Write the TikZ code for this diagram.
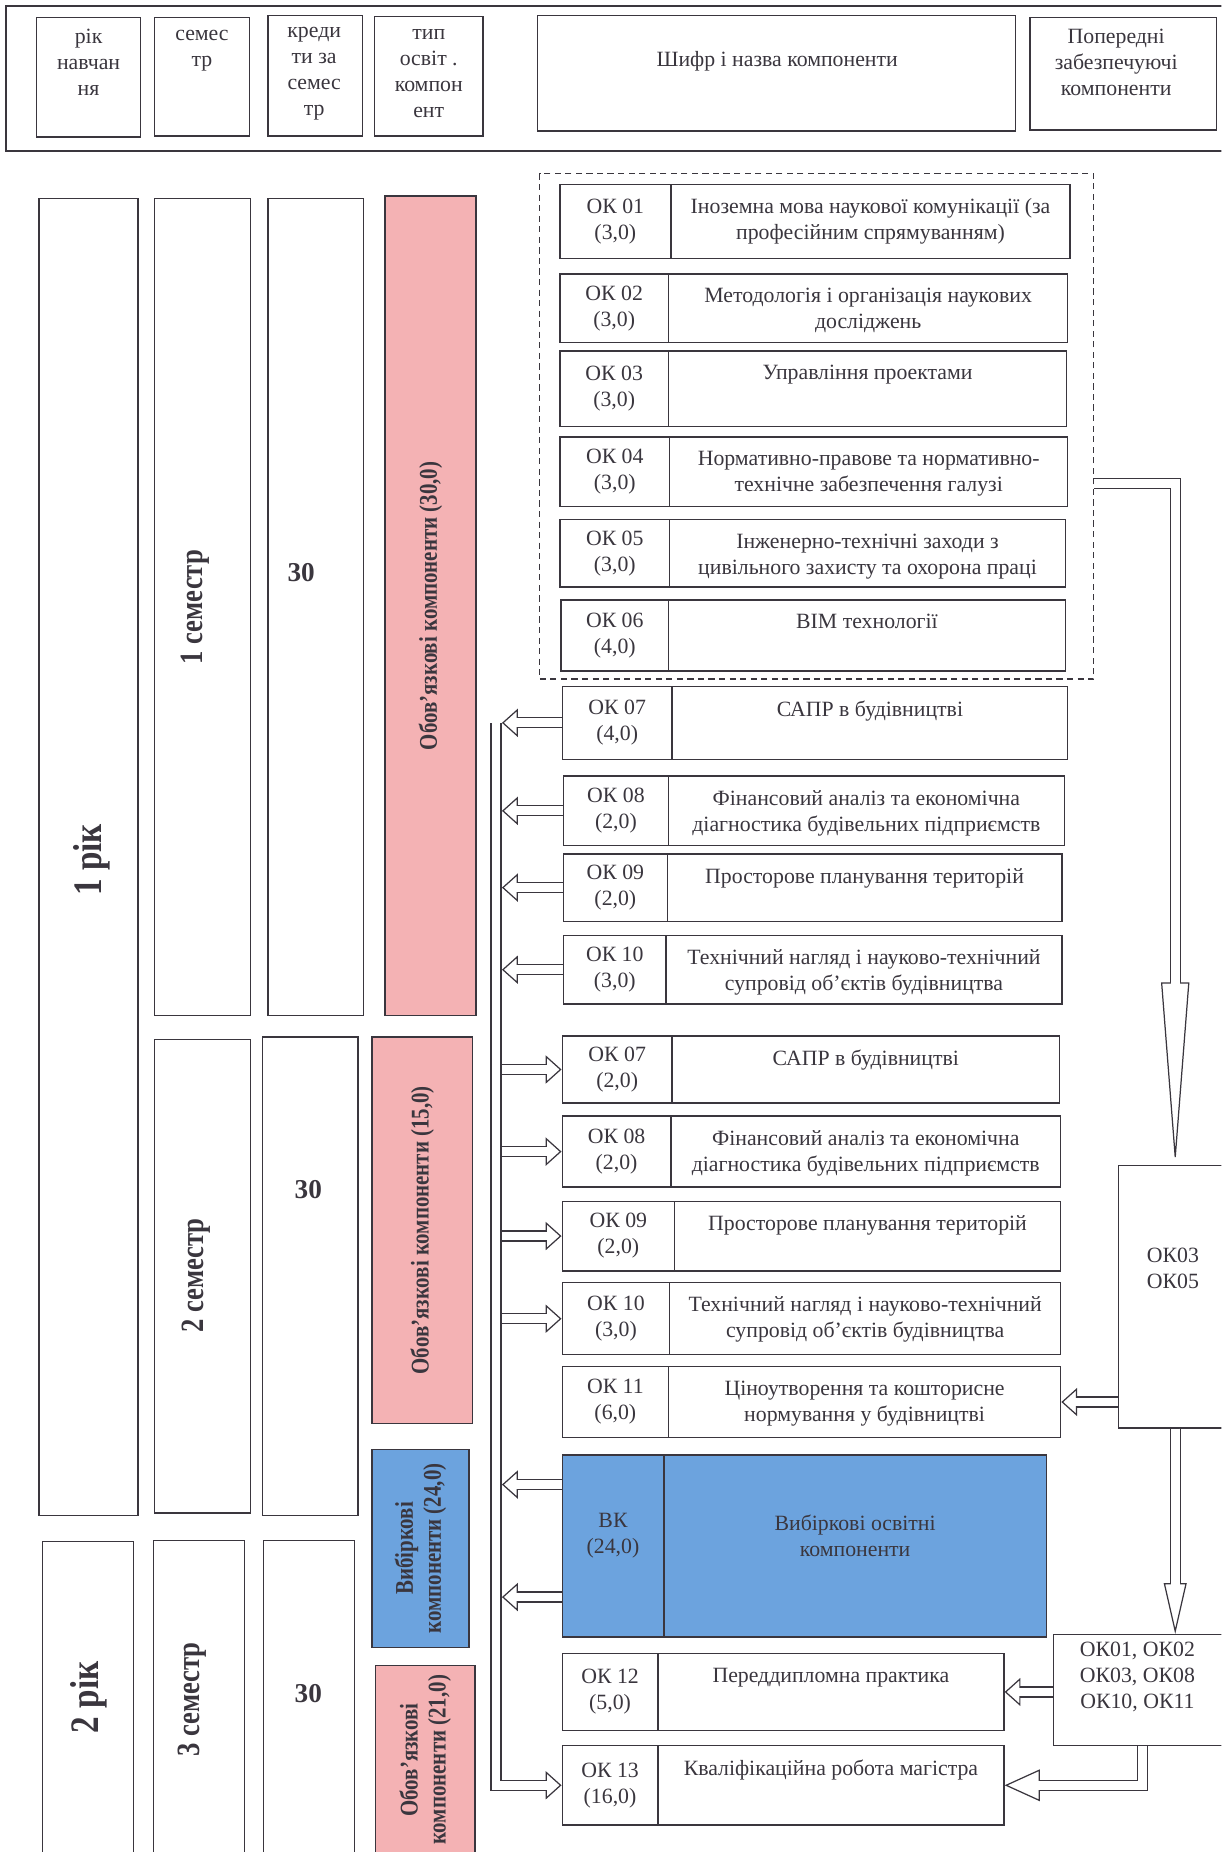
\documentclass[tikz,border=0pt]{standalone}
\usepackage{fontspec}
\setmainfont{Liberation Serif}
\newfontfamily\narrowfont[FakeStretch=0.82]{Liberation Serif}
\usetikzlibrary{arrows.meta, positioning, fit, calc}
\definecolor{ink}{RGB}{58,54,62}
\definecolor{pinkfill}{RGB}{244,178,180}
\definecolor{bluefill}{RGB}{108,163,222}

\begin{document}
\begin{tikzpicture}[
  x=0.02362cm, y=-0.02362cm,
  every node/.style={text=ink},
  cell/.style={draw=ink, line width=0.8pt, inner sep=0pt},
  txt/.style={inner sep=0pt, align=center, font=\fontsize{12.4}{14.8}\selectfont},
  col/.style={draw=ink, line width=0.8pt, inner sep=0pt},
  mand/.style={col, fill=pinkfill},
  elect/.style={col, fill=bluefill},
  vert/.style={rotate=90, inner sep=0pt, align=center, font=\narrowfont\bfseries\fontsize{14.5}{16}\selectfont},
  year/.style={vert, font=\narrowfont\bfseries\fontsize{23}{26}\selectfont},
  sem/.style={vert, font=\narrowfont\bfseries\fontsize{18.5}{22}\selectfont},
  cred/.style={inner sep=0pt, font=\bfseries\fontsize{15.5}{18}\selectfont},
  grp/.style={draw=ink, line width=0.8pt, dash pattern=on 3.5pt off 2.5pt, inner sep=0pt},
  blkarrow/.style n args={3}{draw=ink, line width=6.4pt,
    -{Triangle[fill=white, line width=0.7pt, length=#1, width=#2]},
    postaction={draw=white, line width=5pt, arrows=-, shorten >=#3}},
  blk/.style={blkarrow={9pt}{16pt}{8pt}}
]
\useasboundingbox (0,0) rectangle (1034,1568);
\clip (0,0) rectangle (1034,1568);

% header
\node[cell, fit={(5,5) (1040,128)}] (head) {};
\node[cell, fit={(31,15) (119,116)}] (h1) {};
\node[txt] (h1t) at (75,53) {рік\\навчан\\ня};
\node[cell, fit={(131,15) (211,115)}] (h2) {};
\node[txt] (h2t) at (171,43) {семес\\тр};
\node[cell, fit={(227,13) (307,115)}] (h3) {};
\node[txt] (h3t) at (266,62) {креди\\ти за\\семес\\тр};
\node[cell, fit={(317,14) (409,115)}] (h4) {};
\node[txt] (h4t) at (363,62) {тип\\освіт .\\компон\\ент};
\node[cell, fit={(455,13) (860,111)}] (h5) {};
\node[txt] (h5t) at (658,52) {Шифр і назва компоненти};
\node[cell, fit={(872,15) (1030,110)}] (h6) {};
\node[txt] (h6t) at (945,53) {Попередні\\забезпечуючі\\компоненти};

% years, semesters, credits, component types
\node[col, fit={(33,168) (117,1283)}] (y1) {};
\node[year] (y1t) at (78,728) {1 рік};
\node[col, fit={(36,1305) (113,1600)}] (y2) {};
\node[year] (y2t) at (75,1437) {2 рік};
\node[col, fit={(131,168) (212,860)}] (s1) {};
\node[sem] (s1t) at (165,514) {1 семестр};
\node[col, fit={(131,880) (212,1281)}] (s2) {};
\node[sem] (s2t) at (166,1080) {2 семестр};
\node[col, fit={(130,1304) (207,1600)}] (s3) {};
\node[sem] (s3t) at (163,1439) {3 семестр};
\node[col, fit={(227,168) (308,860)}] (c1) {};
\node[cred] (c1t) at (255,485) {30};
\node[col, fit={(222,878) (303,1283)}] (c2) {};
\node[cred] (c2t) at (261,1007) {30};
\node[col, fit={(223,1304) (300,1600)}] (c3) {};
\node[cred] (c3t) at (261,1434) {30};
\node[mand, fit={(326,166) (403,860)}] (m1) {};
\node[vert] (m1t) at (m1.center) {Обов’язкові компоненти (30,0)};
\node[mand, fit={(315,878) (400,1205)}] (m2) {};
\node[vert] (m2t) at (m2.center) {Обов’язкові компоненти (15,0)};
\node[elect, fit={(315,1227) (397,1395)}] (v1) {};
\node[vert] (v1t) at (v1.center) {Вибіркові\\компоненти (24,0)};
\node[mand, fit={(318,1410) (402,1600)}] (m3) {};
\node[vert] (m3t) at (360,1490) {Обов’язкові\\компоненти (21,0)};

% first semester
\node[grp, fit={(457,147) (926,575)}] (grp) {};
\node[cell, fit={(474,156) (568,219)}] (k01) {};
\node[txt] (k01t) at (k01.center) {ОК 01\\(3,0)};
\node[cell, fit={(568,156) (906,219)}] (n01) {};
\node[txt, below=8.3pt of n01.north] (t01) {Іноземна мова наукової комунікації (за\\професійним спрямуванням)};
\node[cell, fit={(474,232) (566,290)}] (k02) {};
\node[txt] (k02t) at (k02.center) {ОК 02\\(3,0)};
\node[cell, fit={(566,232) (904,290)}] (n02) {};
\node[txt, below=8.3pt of n02.north] (t02) {Методологія і організація наукових\\досліджень};
\node[cell, fit={(474,297) (566,361)}] (k03) {};
\node[txt] (k03t) at (k03.center) {ОК 03\\(3,0)};
\node[cell, fit={(566,297) (903,361)}] (n03) {};
\node[txt, below=8.3pt of n03.north] (t03) {Управління проектами};
\node[cell, fit={(474,370) (567,429)}] (k04) {};
\node[txt] (k04t) at (k04.center) {ОК 04\\(3,0)};
\node[cell, fit={(567,370) (904,429)}] (n04) {};
\node[txt, below=8.3pt of n04.north] (t04) {Нормативно-правове  та нормативно-\\технічне забезпечення галузі};
\node[cell, fit={(474,440) (567,497)}] (k05) {};
\node[txt] (k05t) at (k05.center) {ОК 05\\(3,0)};
\node[cell, fit={(567,440) (902,497)}] (n05) {};
\node[txt, below=8.3pt of n05.north] (t05) {Інженерно-технічні заходи з\\цивільного захисту та охорона праці};
\node[cell, fit={(475,508) (566,568)}] (k06) {};
\node[txt] (k06t) at (k06.center) {ОК 06\\(4,0)};
\node[cell, fit={(566,508) (902,568)}] (n06) {};
\node[txt, below=8.3pt of n06.north] (t06) {BIM технології};
\node[cell, fit={(476,581) (569,643)}] (k07a) {};
\node[txt] (k07at) at (k07a.center) {ОК 07\\(4,0)};
\node[cell, fit={(569,581) (904,643)}] (n07a) {};
\node[txt, below=8.3pt of n07a.north] (t07a) {САПР в будівництві};
\node[cell, fit={(477,657) (566,716)}] (k08a) {};
\node[txt] (k08at) at (k08a.center) {ОК 08\\(2,0)};
\node[cell, fit={(566,657) (901,716)}] (n08a) {};
\node[txt, below=8.3pt of n08a.north] (t08a) {Фінансовий аналіз та економічна\\діагностика будівельних підприємств};
\node[cell, fit={(477,723) (565,780)}] (k09a) {};
\node[txt] (k09at) at (k09a.center) {ОК 09\\(2,0)};
\node[cell, fit={(565,723) (899,780)}] (n09a) {};
\node[txt, below=8.3pt of n09a.north] (t09a) {Просторове планування територій};
\node[cell, fit={(477,792) (564,850)}] (k10a) {};
\node[txt] (k10at) at (k10a.center) {ОК 10\\(3,0)};
\node[cell, fit={(564,792) (899,850)}] (n10a) {};
\node[txt, below=8.3pt of n10a.north] (t10a) {Технічний нагляд і науково-технічний\\супровід об'єктів будівництва};

% second semester
\node[cell, fit={(476,877) (569,934)}] (k07b) {};
\node[txt] (k07bt) at (k07b.center) {ОК 07\\(2,0)};
\node[cell, fit={(569,877) (897,934)}] (n07b) {};
\node[txt, below=8.3pt of n07b.north] (t07b) {САПР в будівництві};
\node[cell, fit={(476,945) (568,1005)}] (k08b) {};
\node[txt] (k08bt) at (k08b.center) {ОК 08\\(2,0)};
\node[cell, fit={(568,945) (898,1005)}] (n08b) {};
\node[txt, below=8.3pt of n08b.north] (t08b) {Фінансовий аналіз та економічна\\діагностика будівельних підприємств};
\node[cell, fit={(476,1017) (571,1076)}] (k09b) {};
\node[txt] (k09bt) at (k09b.center) {ОК 09\\(2,0)};
\node[cell, fit={(571,1017) (898,1076)}] (n09b) {};
\node[txt, below=8.3pt of n09b.north] (t09b) {Просторове планування територій};
\node[cell, fit={(476,1086) (567,1147)}] (k10b) {};
\node[txt] (k10bt) at (k10b.center) {ОК 10\\(3,0)};
\node[cell, fit={(567,1086) (898,1147)}] (n10b) {};
\node[txt, below=8.3pt of n10b.north] (t10b) {Технічний нагляд і науково-технічний\\супровід об'єктів будівництва};
\node[cell, fit={(476,1157) (566,1217)}] (k11) {};
\node[txt] (k11t) at (k11.center) {ОК 11\\(6,0)};
\node[cell, fit={(566,1157) (898,1217)}] (n11) {};
\node[txt, below=8.3pt of n11.north] (t11) {Ціноутворення та кошторисне\\нормування у будівництві};
\node[cell, fill=bluefill, fit={(476,1232) (562,1386)}] (kvk) {};
\node[txt] (kvkt) at (519,1300) {ВК\\(24,0)};
\node[cell, fill=bluefill, fit={(562,1232) (886,1386)}] (nvk) {};
\node[txt] (tvk) at (724,1300) {Вибіркові освітні\\компоненти};

% third semester
\node[cell, fit={(476,1400) (557,1465)}] (k12) {};
\node[txt] (k12t) at (k12.center) {ОК 12\\(5,0)};
\node[cell, fit={(557,1400) (850,1465)}] (n12) {};
\node[txt, below=8.3pt of n12.north] (t12) {Переддипломна практика};
\node[cell, fit={(476,1478) (557,1545)}] (k13) {};
\node[txt] (k13t) at (k13.center) {ОК 13\\(16,0)};
\node[cell, fit={(557,1478) (850,1545)}] (n13) {};
\node[txt, below=8.3pt of n13.north] (t13) {Кваліфікаційна робота магістра};

% prerequisites
\node[cell, fit={(947,987) (1043,1209)}] (p35) {};
\node[txt] (p35t) at (993,1074) {ОК03\\ОК05};
\node[cell, fit={(892,1384) (1043,1478)}] (pall) {};
\node[txt] (pallt) at (963,1420) {ОК01, ОК02\\ОК03, ОК08\\ОК10, ОК11};

% connectors
\coordinate (bus) at (420,0);
\coordinate (busr) at (425,0);
\coordinate (vk1) at ([yshift=35pt]kvk.west);
\coordinate (vk2) at ([yshift=-29pt]kvk.west);
\coordinate (b04) at ($(grp.east |- n04.east)+(0,10)$);
\draw[blk] (k07a.west -| bus) -- (k13.west -| bus) -- (k13.west);
\draw[blk] (k07a.west) -- (k07a.west -| busr);
\draw[blk] (k08a.west) -- (k08a.west -| busr);
\draw[blk] (k09a.west) -- (k09a.west -| busr);
\draw[blk] (k10a.west) -- (k10a.west -| busr);
\draw[blk] (k07b.west -| busr) -- (k07b.west);
\draw[blk] (k08b.west -| busr) -- (k08b.west);
\draw[blk] (k09b.west -| busr) -- (k09b.west);
\draw[blk] (k10b.west -| busr) -- (k10b.west);
\draw[blk] (vk1) -- (vk1 -| busr);
\draw[blk] (vk2) -- (vk2 -| busr);
\draw[blkarrow={104pt}{16pt}{103pt}] (b04) -| (p35.north);
\draw[blk] (p35.west |- n11.east) -- (n11.east);
\draw[blkarrow={29pt}{13pt}{28pt}] (p35.south) -- (p35.south |- pall.north);
\draw[blk] (pall.west |- n12.east) -- (n12.east);
\draw[blkarrow={20pt}{18pt}{19pt}] (pall.south) |- (n13.east);
\end{tikzpicture}
\end{document}
